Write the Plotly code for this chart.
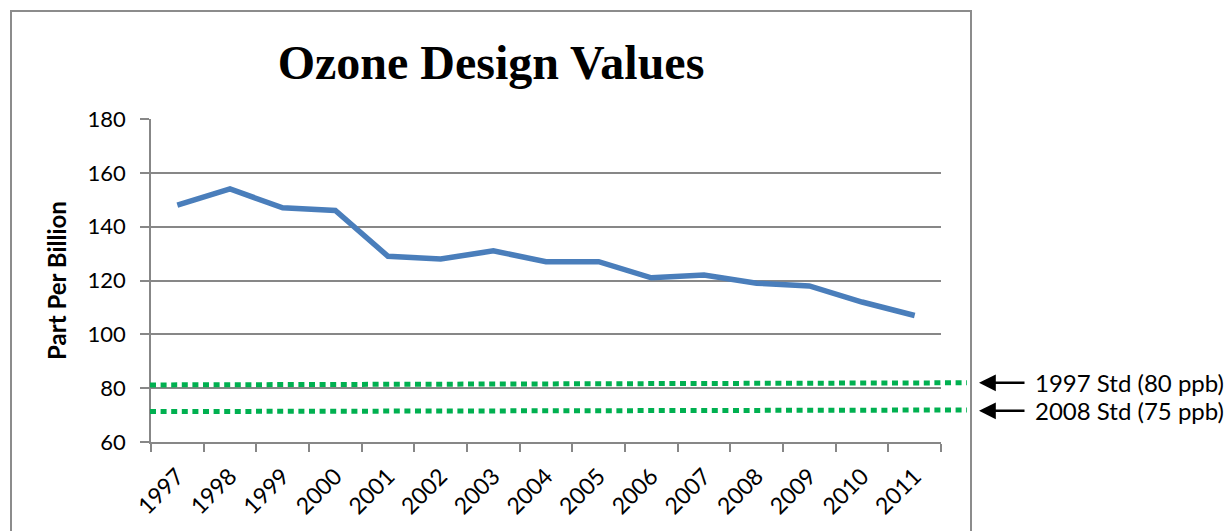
import plotly.graph_objects as go

years = ["1997", "1998", "1999", "2000", "2001", "2002", "2003", "2004",
         "2005", "2006", "2007", "2008", "2009", "2010", "2011"]
ozone_ppb = [148, 154, 147, 146, 129, 128, 131, 127, 127, 121, 122, 119, 118, 112, 107]

std_labels = ["1997 Std (80 ppb)", "2008 Std (75 ppb)"]
std_y_left = [81.2, 71.3]
std_y_right = [82.0, 71.9]
std_arrow_y = [82.0, 71.6]

y_ticks = [60, 80, 100, 120, 140, 160, 180]

W, H = 1227, 531
L, R, T, B = 151, 941, 119, 442
pw, ph = R - L, B - T

def px(x):
    return (x - L) / pw

def py(y):
    return (B - y) / ph

FONT = "Lato"
GRID = "#878787"

fig = go.Figure()
fig.add_trace(go.Scatter(
    x=years, y=ozone_ppb, mode="lines",
    line=dict(color="#4A7EBB", width=5.5),
    showlegend=False, hoverinfo="x+y",
))

shapes = []
shapes.append(dict(type="rect", xref="paper", yref="paper",
                   x0=px(11), x1=px(971), y0=py(560), y1=py(11),
                   line=dict(color="#8C8C8C", width=2), fillcolor="rgba(0,0,0,0)",
                   layer="below"))
for yl, yr in zip(std_y_left, std_y_right):
    shapes.append(dict(type="line", xref="paper", yref="y",
                       x0=px(150), x1=px(967), y0=yl, y1=yr,
                       line=dict(color="#00B050", width=5, dash="6px,4.6px"),
                       layer="above"))

annotations = []
for lab, ya in zip(std_labels, std_arrow_y):
    annotations.append(dict(xref="paper", yref="y", x=px(979), y=ya,
                            text="", showarrow=True, ax=47, ay=0,
                            arrowhead=2, arrowsize=1.4, arrowwidth=2.4,
                            arrowcolor="black"))
    annotations.append(dict(xref="paper", yref="y", x=px(1033), y=ya,
                            text=lab, showarrow=False, xanchor="left",
                            yanchor="middle",
                            font=dict(family=FONT, size=24, color="black")))

fig.update_layout(
    width=W, height=H,
    margin=dict(l=L, r=W - R, t=T, b=H - B, pad=0, autoexpand=False),
    paper_bgcolor="white", plot_bgcolor="white",
    title=dict(text="<b>Ozone Design Values</b>", x=491 / W, xanchor="center",
               y=1 - 62 / H, yanchor="middle",
               font=dict(family="Liberation Serif", size=48, color="black")),
    shapes=shapes, annotations=annotations,
    xaxis=dict(type="category", range=[-0.5, len(years) - 0.5],
               tickangle=-45, tickson="boundaries",
               ticks="outside", ticklen=8, tickcolor=GRID, tickwidth=1.5,
               showline=True, linecolor=GRID, linewidth=1.5,
               showgrid=False, zeroline=False, ticklabelstandoff=10,
               tickfont=dict(family=FONT, size=23, color="black")),
    yaxis=dict(range=[60, 180], tickvals=y_ticks,
               ticks="outside", ticklen=9, tickcolor=GRID, tickwidth=1.5,
               showline=True, linecolor=GRID, linewidth=1.5,
               showgrid=True, gridcolor=GRID, gridwidth=1.5, zeroline=False,
               ticklabelstandoff=10,
               tickfont=dict(family=FONT, size=22, color="black"),
               title=dict(text="<b>Part Per Billion</b>", standoff=14,
                          font=dict(family=FONT, size=24, color="black"))),
)

fig.write_html("out.html", config={"displayModeBar": False},
               post_script="document.body.style.margin='0px';")
